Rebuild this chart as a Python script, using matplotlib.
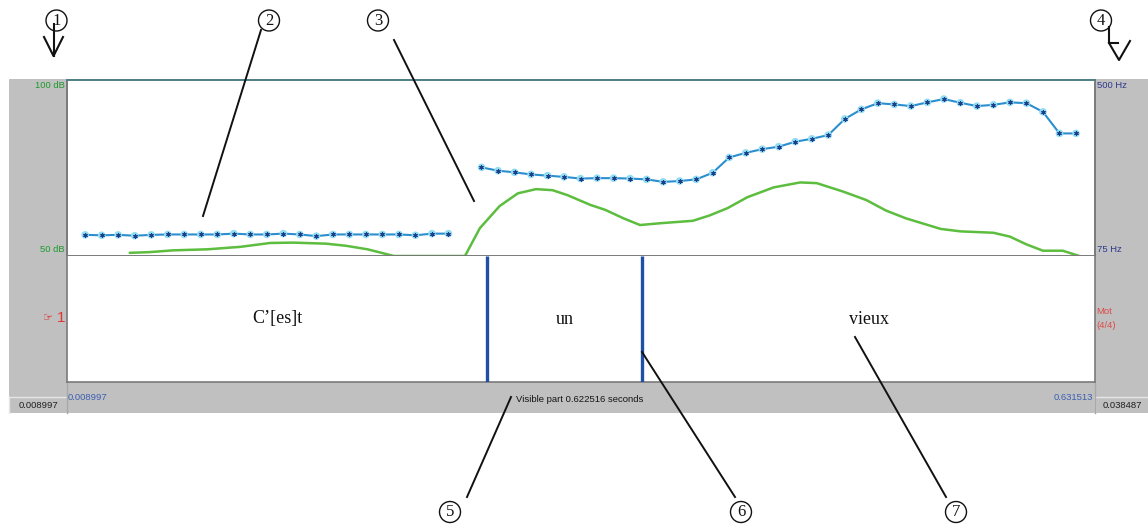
import numpy as np
import matplotlib
matplotlib.use("Agg")
import matplotlib.pyplot as plt
from matplotlib.patches import Rectangle, Circle

# --- visible window (s) ---
T_START, T_END = 0.008997, 0.631513
SEL_LEFT, SEL_RIGHT = "0.008997", "0.038487"

# --- pitch (Hz), two voiced stretches, 10 ms frames ---
f0_t1 = np.round(np.arange(23) * 0.01 + 0.020, 3)
f0_hz1 = [126, 125, 126, 124, 126, 127, 127, 127, 127, 129, 127, 127,
          129, 127, 123, 127, 127, 127, 127, 127, 125, 129, 129]
f0_t2 = np.round(np.arange(37) * 0.01 + 0.260, 3)
f0_hz2 = [289, 281, 277, 272, 269, 266, 262, 263, 263, 262, 260, 254,
          256, 260, 276, 313, 324, 333, 339, 351, 358, 367, 406, 429,
          444, 441, 437, 446, 454, 445, 437, 440, 446, 444, 423, 371, 371]

# --- intensity (dB) ---
int_t = [0.047, 0.059, 0.073, 0.094, 0.114, 0.132, 0.146, 0.166, 0.178,
         0.191, 0.207, 0.250, 0.259, 0.271, 0.282, 0.293, 0.303, 0.312,
         0.326, 0.335, 0.346, 0.356, 0.368, 0.388, 0.398, 0.409, 0.421,
         0.437, 0.453, 0.463, 0.479, 0.493, 0.505, 0.517, 0.538, 0.550,
         0.570, 0.580, 0.590, 0.600, 0.612, 0.622]
int_db = [50.9, 51.1, 51.6, 51.9, 52.6, 53.7, 53.8, 53.5, 52.9, 51.9,
          50.0, 50.0, 57.9, 64.2, 67.8, 69.0, 68.7, 67.3, 64.5, 63.1,
          60.7, 58.8, 59.3, 60.0, 61.5, 63.6, 66.7, 69.5, 70.9, 70.7,
          68.3, 65.9, 62.9, 60.7, 57.7, 57.0, 56.6, 55.5, 53.3, 51.5,
          51.5, 50.0]

# --- word tier ---
boundaries = [0.2633, 0.3572]
words = ["C\u2019[es]t", "un", "vieux"]
tier_name, tier_pos = "Mot", "(4/4)"

DB_MIN, DB_MAX = 50, 100
HZ_MIN, HZ_MAX = 75, 500

W, H = 1148, 527
fig = plt.figure(figsize=(W / 100, H / 100), dpi=100)


def px_axes(x0, y0, x1, y1):
    return fig.add_axes([x0 / W, 1 - y1 / H, (x1 - x0) / W, (y1 - y0) / H])


def canvas():
    a = fig.add_axes([0, 0, 1, 1])
    a.set_xlim(0, W)
    a.set_ylim(H, 0)
    a.axis("off")
    a.patch.set_alpha(0)
    return a


GRAY = "#c0c0c0"
UI = dict(family="Liberation Sans", fontsize=6.8)

# window chrome underneath everything
bg = canvas()
bg.add_patch(Rectangle((9, 79), W - 9, 334, fc=GRAY, ec="none", zorder=0))
for x0, x1, txt in [(9, 66, SEL_LEFT), (1095, W, SEL_RIGHT)]:
    bg.plot([x0, x1], [396.5, 396.5], color="#e6e6e6", lw=1, zorder=1)
    bg.plot([x0, x0], [396.5, 413], color="#e6e6e6", lw=1, zorder=1)
    bg.text((x0 + x1) / 2 + 1, 405.5, txt, ha="center", va="center",
            color="#202020", **UI)
bg.plot([66.5, 66.5], [383, 413], color="#a8a8a8", lw=1)
bg.plot([1094.5, 1094.5], [383, 413], color="#a8a8a8", lw=1)

# --- upper pane: intensity + pitch ---
ax_i = px_axes(67, 80, 1095, 256)
ax_i.set_xlim(T_START, T_END)
ax_i.set_ylim(DB_MIN, DB_MAX)
ax_i.set_xticks([])
ax_i.set_yticks([])
ax_p = ax_i.twinx()
ax_p.set_ylim(HZ_MIN, HZ_MAX)
ax_p.set_yticks([])
for a in (ax_i, ax_p):
    for s in a.spines.values():
        s.set_color("#7a7a7a")
        s.set_linewidth(1.2)
    a.spines["top"].set_color("#4d8086")

db = np.array(int_db)
ax_i.plot(int_t, db, color="#5cbd3e", lw=1.8, solid_capstyle="round",
          zorder=2)
ax_i.plot(int_t, np.where(db <= DB_MIN, db, np.nan), color="#2f7a22",
          lw=1.8, zorder=3)

for t, hz in [(f0_t1, f0_hz1), (f0_t2, f0_hz2)]:
    ax_p.plot(t, hz, color="#2b8fcf", lw=1.5, zorder=3)
    ax_p.scatter(t, hz, s=30, color="#8fdcf2", edgecolors="none", zorder=4)
    ax_p.scatter(t, hz, s=6, marker=(6, 2, 0), color="#1c3f8c",
                 linewidths=0.9, zorder=5)

bg.text(65, 86, f"{DB_MAX} dB", ha="right", va="center", color="#1f9a2e", **UI)
bg.text(65, 249, f"{DB_MIN} dB", ha="right", va="center", color="#1f9a2e", **UI)
bg.text(1097, 86, f"{HZ_MAX} Hz", ha="left", va="center", color="#2e3a8c", **UI)
bg.text(1097, 249, f"{HZ_MIN} Hz", ha="left", va="center", color="#2e3a8c", **UI)

# --- word tier ---
ax_t = px_axes(67, 256, 1095, 382)
ax_t.set_xlim(T_START, T_END)
ax_t.set_ylim(0, 1)
ax_t.set_xticks([])
ax_t.set_yticks([])
for s in ax_t.spines.values():
    s.set_color("#7a7a7a")
    s.set_linewidth(1.2)
ax_t.spines["top"].set_visible(False)
ax_t.vlines(boundaries, 0, 1, color="#1f4fa6", lw=2.4, zorder=3)
edges = [T_START] + boundaries + [T_END]
for (a, b), w in zip(zip(edges[:-1], edges[1:]), words):
    ax_t.text((a + b) / 2, 0.5, w, ha="center", va="center",
              family="Liberation Serif", fontsize=13, color="#111111")

bg.text(53, 318, "\u261e", ha="right", va="center", color="#e03535",
        family="DejaVu Sans", fontsize=8)
bg.text(65, 318, "1", ha="right", va="center", color="#e03535",
        family="Liberation Sans", fontsize=11)
bg.text(1096, 311, tier_name, ha="left", va="center", color="#e04848", **UI)
bg.text(1096, 326, tier_pos, ha="left", va="center", color="#e04848", **UI)

# --- time readout strip ---
bg.text(68, 398, f"{T_START:.6f}", ha="left", va="center",
        color="#3d5fb3", **UI)
bg.text(1093, 398, f"{T_END:.6f}", ha="right", va="center",
        color="#3d5fb3", **UI)
bg.text(580, 399, f"Visible part {T_END - T_START:.6f} seconds",
        ha="center", va="center", color="#151515", **UI)

# --- numbered callouts, drawn over the panes ---
top = canvas()
callouts = {1: (56.5, 20.5), 2: (269, 20.5), 3: (378, 20.5), 4: (1101, 20.5),
            5: (450, 512), 6: (741, 512), 7: (956, 512)}
for n, (cx, cy) in callouts.items():
    top.add_patch(Circle((cx, cy), 10.5, fc="none", ec="#111111", lw=1.0,
                         zorder=6))
    top.text(cx, cy + 0.5, str(n), ha="center", va="center",
             family="Liberation Serif", fontsize=12, color="#111111", zorder=6)

leaders = [((261, 30), (203, 216)), ((394, 40), (474, 201)),
           ((467, 497), (511, 397)), ((735, 497), (642, 352)),
           ((946, 497), (855, 337))]
for (x0, y0), (x1, y1) in leaders:
    top.plot([x0, x1], [y0, y1], color="#111111", lw=1.4, zorder=5)

# down arrow under 1
top.plot([53.5, 53.5], [24, 56], color="#111111", lw=1.5, zorder=5)
top.plot([44, 53.5, 63], [37, 56, 37], color="#111111", lw=1.5, zorder=5)
# bent arrow under 4
top.plot([1109, 1109, 1118], [27, 43, 43], color="#111111", lw=1.5, zorder=5)
top.plot([1109, 1119, 1130], [43, 60, 41], color="#111111", lw=1.5, zorder=5)

fig.savefig("out.png", dpi=100)
